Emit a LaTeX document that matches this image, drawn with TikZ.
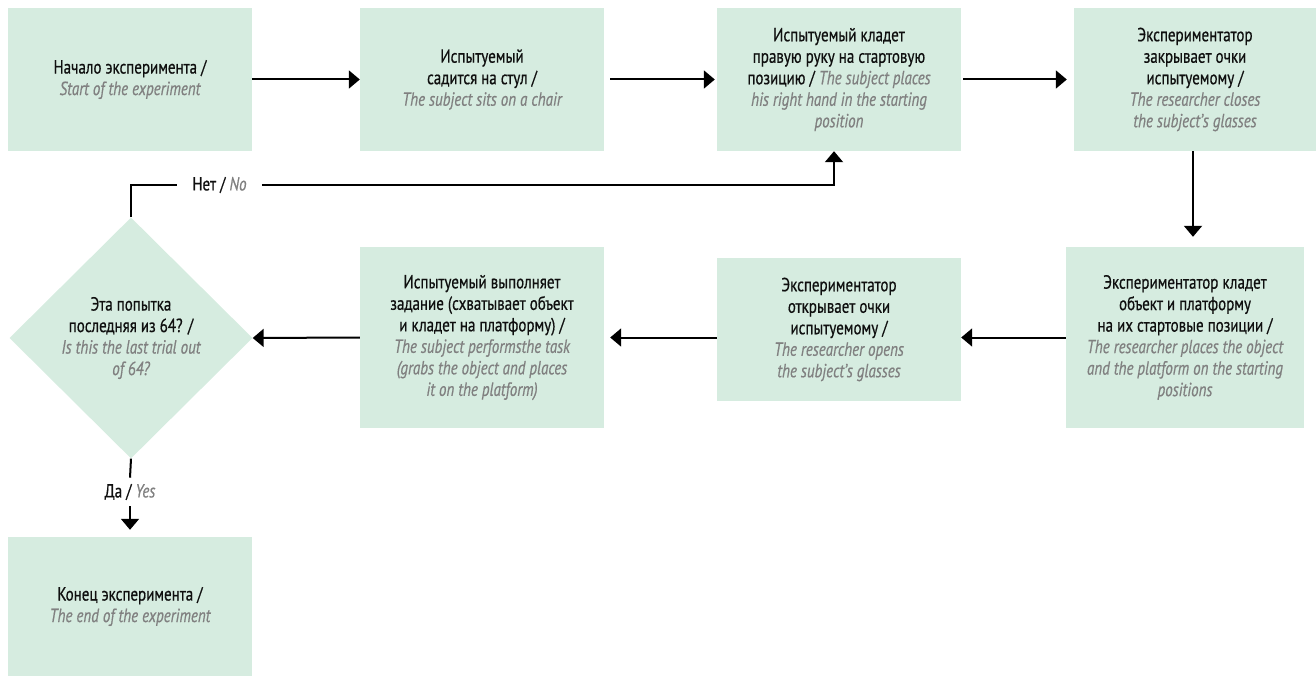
\documentclass[tikz,border=0pt]{standalone}
\usepackage{fontspec}
\setmainfont{PT Sans}[FakeStretch=0.79,FakeBold=0.6]
\usetikzlibrary{arrows.meta,shapes.geometric}

\definecolor{boxfill}{RGB}{214,236,224}
\definecolor{engtext}{RGB}{128,128,128}
\definecolor{rutext}{RGB}{15,15,15}
% English translation lines: grey italic
\newcommand{\en}[1]{{\itshape\color{engtext}#1}}

\begin{document}
\begin{tikzpicture}[x=1pt,y=-1pt,
  every node/.style={font=\fontsize{19}{21.5}\selectfont, text=rutext},
  stepbox/.style={fill=boxfill, inner sep=0pt, minimum width=244pt, minimum height=143pt, align=center},
  decision/.style={diamond, fill=boxfill, inner sep=0pt, minimum width=243pt, minimum height=241pt, align=center},
  flow/.style={line width=2pt, -{Triangle[length=11pt,width=18pt]}},
  plain/.style={line width=2pt},
  branch/.style={inner ysep=6pt, inner xsep=15pt}
]
\useasboundingbox (0,0) rectangle (1316,676);

% top row
\node[stepbox] (b1) at (130,79.5) {Начало эксперимента /\\\en{Start of the experiment}};
\node[stepbox] (b2) at (482,79.5) {Испытуемый\\садится на стул /\\\en{The subject sits on a chair}};
\node[stepbox] (b3) at (839,79.5) {Испытуемый кладет\\правую руку на стартовую\\позицию / \en{The subject places}\\\en{his right hand in the starting}\\\en{position}};
\node[stepbox, minimum width=242pt] (b4) at (1195,79.5) {Экспериментатор\\закрывает очки\\испытуемому /\\\en{The researcher closes}\\\en{the subject’s glasses}};

% second row
\node[stepbox, minimum width=238pt, minimum height=181pt] (b5) at (1185,337.5) {Экспериментатор кладет\\объект и платформу\\на их стартовые позиции /\\\en{The researcher places the object}\\\en{and the platform on the starting}\\\en{positions}};
\node[stepbox] (b6) at (839,329.5) {Экспериментатор\\открывает очки\\испытуемому /\\\en{The researcher opens}\\\en{the subject’s glasses}};
\node[stepbox, minimum height=181pt] (task) at (482,337.5) {Испытуемый выполняет\\задание (схватывает объект\\и кладет на платформу) /\\\en{The subject performsthe task}\\\en{(grabs the object and places}\\\en{it on the platform)}};
\node[decision] (d) at (131,338) {Эта попытка\\последняя из 64? /\\\en{Is this the last trial out}\\\en{of 64?}};

% end
\node[stepbox, minimum height=139pt] (b7) at (130,606.5) {Конец эксперимента /\\\en{The end of the experiment}};

% branch labels
\node[branch] (no) at (219.5,185) {Нет / \en{No}};
\node[branch] (yes) at (130,492) {Да / \en{Yes}};
\coordinate (b3in) at ([xshift=-5pt]b3.south);

% connectors
\draw[flow] (b1.east) -- (b2.west);
\draw[flow, shorten <=6pt, shorten >=2pt] (b2.east) -- (b3.west);
\draw[flow, shorten <=2pt, shorten >=7pt] (b3.east) -- (b4.west);
\draw[flow, shorten >=10pt] ([xshift=-2pt]b4.south) -- ([xshift=-2pt]b4.south |- b5.north);
\draw[flow] (b5.west) -- (b5.west -| b6.east);
\draw[flow, shorten >=6pt] (task.east -| b6.west) -- (task.east);
\draw[flow] (task.west) -- (d.east);
\draw[plain] (d.north) |- (no.west);
\draw[flow] (no.east) -| (b3in);
\draw[plain] (d.south) -- (yes.north);
\draw[flow, shorten >=7pt] (yes.south) -- (b7.north);
\end{tikzpicture}
\end{document}
